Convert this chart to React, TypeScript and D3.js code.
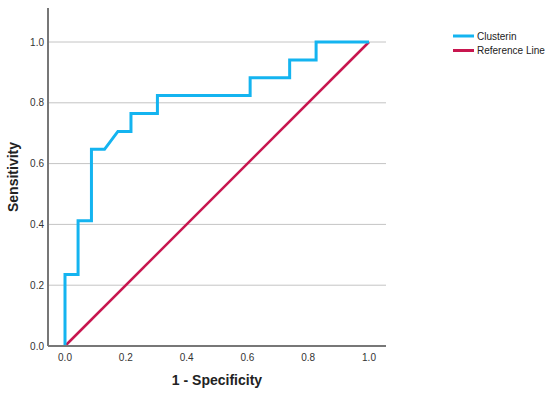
import React from "react";
import * as d3 from "d3";

const fpr = [0, 0, 0.043, 0.043, 0.087, 0.087, 0.130, 0.174, 0.217, 0.217, 0.304, 0.304, 0.609, 0.609, 0.739, 0.739, 0.826, 0.826, 1.0];
const tpr = [0, 0.235, 0.235, 0.412, 0.412, 0.647, 0.647, 0.706, 0.706, 0.765, 0.765, 0.824, 0.824, 0.882, 0.882, 0.941, 0.941, 1.0, 1.0];
const refX = [0, 1];
const refY = [0, 1];
const tickValues = [0, 0.2, 0.4, 0.6, 0.8, 1.0];
const seriesNames = ["Clusterin", "Reference Line"];
const seriesColors = ["#14b4f0", "#c8164f"];

export default function App() {
  const W = 550, H = 393;
  const x = d3.scaleLinear().domain([0, 1]).range([65, 369]);
  const y = d3.scaleLinear().domain([0, 1]).range([346, 42]);
  const xMin = 48, xMax = 386, yTop = 8, yBot = 346;
  const line = d3.line<[number, number]>().x(d => x(d[0])).y(d => y(d[1]));
  const roc = fpr.map((v, i) => [v, tpr[i]] as [number, number]);
  const ref = refX.map((v, i) => [v, refY[i]] as [number, number]);
  const font = "Arial, 'Liberation Sans', sans-serif";
  return (
    <svg width={W} height={H} style={{ position: "absolute", left: 0, top: 0, background: "#fff" }} fontFamily={font}>
      <rect width={W} height={H} fill="#fff" />
      {tickValues.map(t => (
        <line key={"g" + t} x1={xMin} x2={xMax} y1={y(t)} y2={y(t)} stroke="#c4c4c4" strokeWidth={1} />
      ))}
      <path d={line(ref) || ""} fill="none" stroke={seriesColors[1]} strokeWidth={2.5} />
      <path d={line(roc) || ""} fill="none" stroke={seriesColors[0]} strokeWidth={3} strokeLinejoin="miter" />
      <line x1={xMin} x2={xMin} y1={yTop} y2={yBot} stroke="#777" strokeWidth={2} />
      <line x1={xMin} x2={xMax} y1={yBot} y2={yBot} stroke="#777" strokeWidth={2} />
      {tickValues.map(t => (
        <text key={"yl" + t} x={44} y={y(t)} dy="0.35em" textAnchor="end" fontSize={10} fill="#333">{t.toFixed(1)}</text>
      ))}
      {tickValues.map(t => (
        <text key={"xl" + t} x={x(t)} y={357} dy="0.35em" textAnchor="middle" fontSize={10} fill="#333">{t.toFixed(1)}</text>
      ))}
      <text x={217} y={380} dy="0.35em" textAnchor="middle" fontSize={14} fontWeight="bold" fill="#222">1 - Specificity</text>
      <text transform={`translate(13,177) rotate(-90)`} dy="0.35em" textAnchor="middle" fontSize={14} fontWeight="bold" fill="#222">Sensitivity</text>
      {seriesNames.map((n, i) => (
        <g key={n}>
          <line x1={453} x2={474} y1={36 + i * 14.5} y2={36 + i * 14.5} stroke={seriesColors[i]} strokeWidth={3} />
          <text x={477} y={36 + i * 14.5} dy="0.35em" fontSize={10} fill="#222">{n}</text>
        </g>
      ))}
    </svg>
  );
}
